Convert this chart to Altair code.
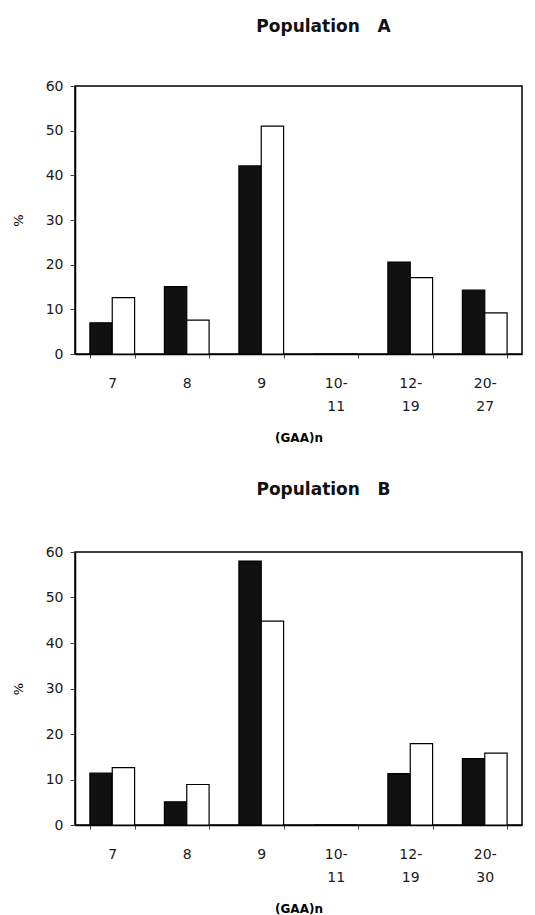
import altair as alt
import pandas as pd

cats_a = ["7", "8", "9", "10-11", "12-19", "20-27"]
black_a = [7.0, 15.1, 42.1, 0, 20.6, 14.3]
white_a = [12.6, 7.6, 51.0, 0, 17.1, 9.2]

cats_b = ["7", "8", "9", "10-11", "12-19", "20-30"]
black_b = [11.4, 5.1, 58.0, 0, 11.3, 14.6]
white_b = [12.6, 8.9, 44.8, 0, 17.9, 15.8]

series = ["black", "white"]
y_ticks = [0, 10, 20, 30, 40, 50, 60]

FONT = "DejaVu Sans"

def make_df(cats, b, w):
    rows = []
    for c, vb, vw in zip(cats, b, w):
        rows.append({"cat": c, "series": "black", "value": vb})
        rows.append({"cat": c, "series": "white", "value": vw})
    return pd.DataFrame(rows)

label_expr = ("indexof(datum.label, '-') > 0 ? "
              "[split(datum.label, '-')[0] + '-', split(datum.label, '-')[1]] : datum.label")

def panel(cats, b, w, title, h, offset):
    df = make_df(cats, b, w)
    return alt.Chart(df).mark_bar(stroke="black", strokeWidth=1.2).encode(
        x=alt.X("cat:N", sort=cats,
                scale=alt.Scale(paddingInner=0.4, paddingOuter=0.2),
                axis=alt.Axis(title="(GAA)n", labelAngle=0, labelExpr=label_expr,
                              tickBand="extent", tickSize=4, labelPadding=18,
                              labelLineHeight=23, labelFontSize=14, labelFont=FONT,
                              labelColor="#1a1a1a", titleFont=FONT, titleFontSize=12,
                              titleFontWeight="bold", titlePadding=19,
                              domainColor="black", tickColor="#444",
                              domainWidth=1.5)),
        xOffset=alt.XOffset("series:N", sort=series, scale=alt.Scale(paddingInner=0, paddingOuter=0)),
        y=alt.Y("value:Q", scale=alt.Scale(domain=[0, 60], nice=False),
                axis=alt.Axis(title="%", values=y_ticks, grid=False, tickSize=5,
                              labelPadding=7, labelFontSize=14, labelFont=FONT,
                              labelColor="#1a1a1a", titleFont=FONT, titleFontSize=13,
                              titleFontWeight="normal", titlePadding=20,
                              domainColor="black", tickColor="#444", domainWidth=1.5)),
        fill=alt.Fill("series:N", sort=series,
                      scale=alt.Scale(domain=series, range=["#111111", "#ffffff"]),
                      legend=None),
    ).properties(
        width=447, height=h,
        title=alt.TitleParams(title, font=FONT, fontSize=17, fontWeight="bold",
                              offset=offset, dx=25, color="#111"),
    )

pa = panel(cats_a, black_a, white_a, "Population\u00a0\u00a0\u00a0A", 268, 43)
pb = panel(cats_b, black_b, white_b, "Population\u00a0\u00a0\u00a0B", 273, 46)

chart = alt.vconcat(pa, pb, spacing=36).properties(
    padding={"top": 9, "left": 3, "right": 0, "bottom": 0}
).configure_view(stroke="black", strokeWidth=1.5)

chart.save("out.html", embed_options={"renderer": "svg", "actions": False})
